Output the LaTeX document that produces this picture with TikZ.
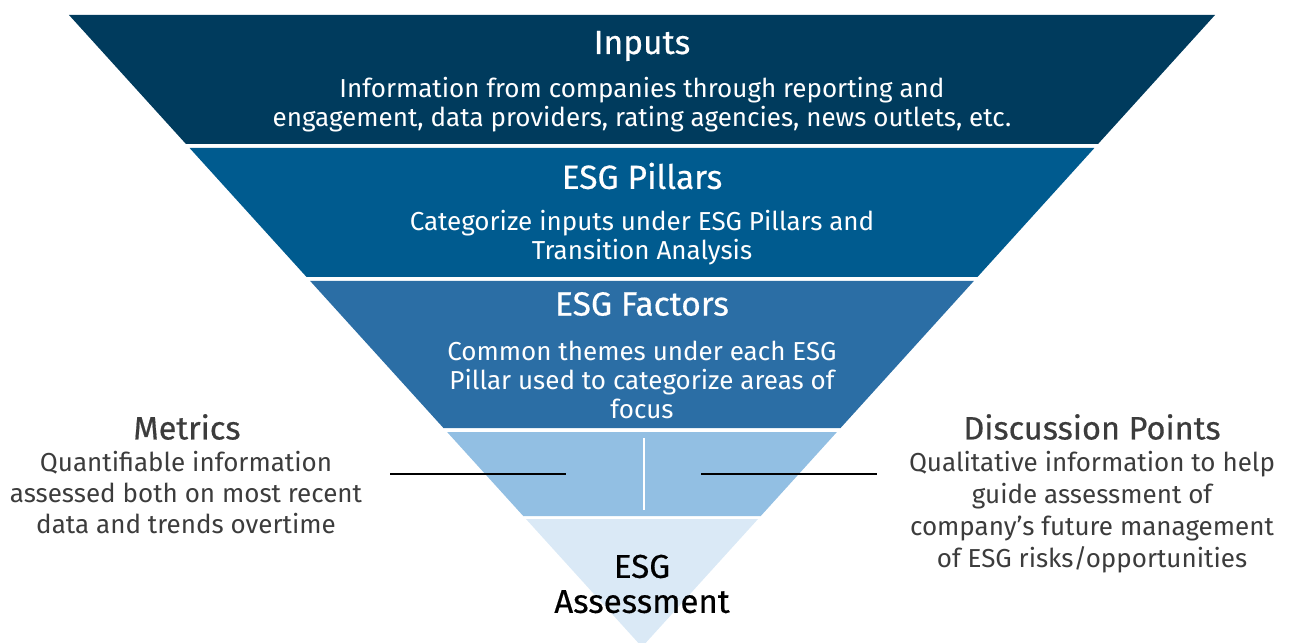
\documentclass[tikz,border=0pt]{standalone}
\usepackage{fontspec}
\setmainfont{Fira Sans}
\newfontfamily\medfont{Fira Sans}[FakeBold=0.5]
\definecolor{bandA}{HTML}{003B5D}
\definecolor{bandB}{HTML}{005B8F}
\definecolor{bandC}{HTML}{2B6EA5}
\definecolor{bandD}{HTML}{92BFE3}
\definecolor{bandE}{HTML}{DAE9F6}
\definecolor{sidetext}{HTML}{3C3C3C}
\newcommand{\funnelband}[3]{%
  \pgfmathsetmacro\hwa{0.906646*(647-#2)}%
  \pgfmathsetmacro\hwb{0.906646*(647-#3)}%
  \fill[#1] ({642-\hwa},#2) -- ({642+\hwa},#2) -- ({642+\hwb},#3) -- ({642-\hwb},#3) -- cycle;}
\tikzset{
  bandtitle/.style={text=white, font=\medfont\fontsize{33.5bp}{36bp}\selectfont, inner sep=0pt},
  bandbody/.style={text=white, font=\fontsize{26bp}{29bp}\selectfont, align=center, inner sep=0pt},
  sidetitle/.style={text=sidetext, font=\medfont\fontsize{32.5bp}{36bp}\selectfont, inner sep=0pt},
  sidebody/.style={text=sidetext, font=\fontsize{26bp}{31bp}\selectfont, align=center, inner sep=0pt},
  leader/.style={draw=black, line width=1.5bp},
}
\begin{document}
\begin{tikzpicture}[x=1bp,y=-1bp]
\useasboundingbox (0,0) rectangle (1292,643);
\begin{scope}
\clip (0,0) rectangle (1292,643);
\funnelband{bandA}{15}{144}
\funnelband{bandB}{148}{277}
\funnelband{bandC}{281}{428}
\funnelband{bandD}{432}{516}
\funnelband{bandE}{519}{647}
\end{scope}
\fill[white] (642.8,438) rectangle (645.3,510);

\node[bandtitle] (inputs) at (642,46) {Inputs};
\node[bandbody] (inputsbody) at (642,105) {Information from companies through reporting and\\engagement, data providers, rating agencies, news outlets, etc.};
\node[bandtitle] (pillars) at (642,176) {ESG Pillars};
\node[bandbody] (pillarsbody) at (642,238) {Categorize inputs under ESG Pillars and\\Transition Analysis};
\node[bandtitle] (factors) at (642,304) {ESG Factors};
\node[bandbody] (factorsbody) at (642,380) {Common themes under each ESG\\Pillar used to categorize areas of\\focus};
\node[bandtitle, text=black, align=center, font=\medfont\fontsize{33bp}{35bp}\selectfont] (assess) at (642,584) {ESG\\Assessment};

\node[sidetitle] (metrics) at (187,427) {Metrics};
\node[sidebody] (metricsbody) at (186,493) {Quantifiable information\\assessed both on most recent\\data and trends overtime};
\node[sidetitle] (discussion) at (1092,427) {Discussion Points};
\node[sidebody, font=\fontsize{26bp}{32bp}\selectfont] (discussionbody) at (1092,512) {Qualitative information to help\\guide assessment of\\company’s future management\\of ESG risks/opportunities};

\coordinate (mleft) at (390,474);
\coordinate (mright) at (566,474);
\coordinate (dleft) at (701,474);
\coordinate (dright) at (877,474);
\draw[leader] (mleft) -- (mright);
\draw[leader] (dleft) -- (dright);
\end{tikzpicture}
\end{document}
